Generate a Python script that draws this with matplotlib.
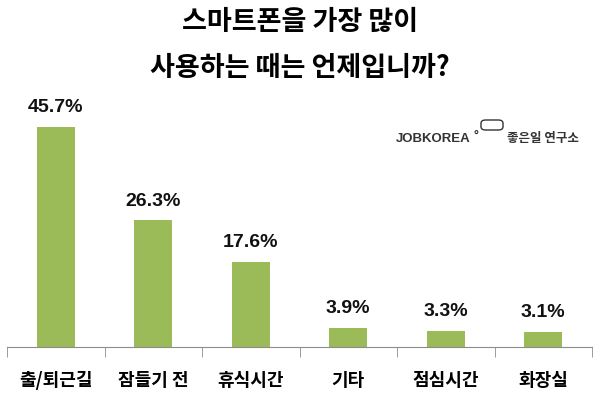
import matplotlib
matplotlib.use("Agg")
import matplotlib.pyplot as plt
from matplotlib.patches import FancyBboxPatch
import numpy as np

plt.rcParams['font.family'] = ['Noto Sans CJK KR', 'DejaVu Sans']

categories = ["출/퇴근길", "잠들기 전", "휴식시간", "기타", "점심시간", "화장실"]
values = [45.7, 26.3, 17.6, 3.9, 3.3, 3.1]

fig = plt.figure(figsize=(6, 3.94), dpi=100)
ax = fig.add_axes([7 / 600, 1 - 347 / 394, 585 / 600, 247 / 394])

x = np.arange(len(categories))
ax.bar(x, values, width=0.39, color="#9bbb59")
for xi, v in zip(x, values):
    ax.text(xi, v + 3.1, f"{v}%", ha="center", va="baseline",
            fontsize=14, fontweight="bold", color="#111111",
            family="Liberation Sans")

ax.set_xlim(-0.5, len(categories) - 0.5)
ax.set_ylim(0, 51.35)
for s in ["top", "right", "left"]:
    ax.spines[s].set_visible(False)
ax.spines["bottom"].set_color("#8c8c8c")
ax.set_yticks([])
ax.set_xticks(x)
ax.set_xticklabels(categories, fontsize=13, fontweight="bold")
ax.tick_params(axis="x", which="major", length=0, pad=17)
ax.set_xticks(np.arange(len(categories) + 1) - 0.5, minor=True)
ax.tick_params(axis="x", which="minor", length=7, color="#8c8c8c")

fig.text(0.5, 1 - 22 / 394, "스마트폰을 가장 많이", ha="center", va="center",
         fontsize=19.5, fontweight="bold")
fig.text(0.5, 1 - 68 / 394, "사용하는 때는 언제입니까?", ha="center", va="center",
         fontsize=19.5, fontweight="bold")

# logo
fig.text(396 / 600, 1 - 142 / 394, "JOBKOREA", ha="left", va="baseline",
         fontsize=9.5, fontweight="bold", color="#333333",
         family="Liberation Sans")
fig.text(474 / 600, 1 - 139 / 394, "°", ha="left", va="baseline",
         fontsize=9, fontweight="bold", color="#333333",
         family="Liberation Sans")
logo = FancyBboxPatch((481 / 600, 1 - 130 / 394), 22 / 600, 10 / 394,
                      boxstyle="round,pad=0,rounding_size=0.008",
                      transform=fig.transFigure, fill=False,
                      edgecolor="#333333", linewidth=1)
fig.patches.append(logo)
fig.text(507 / 600, 1 - 138 / 394, "좋은일 연구소", ha="left", va="center",
         fontsize=9, fontweight="bold", color="#333333")

fig.savefig("out.png", dpi=100)
